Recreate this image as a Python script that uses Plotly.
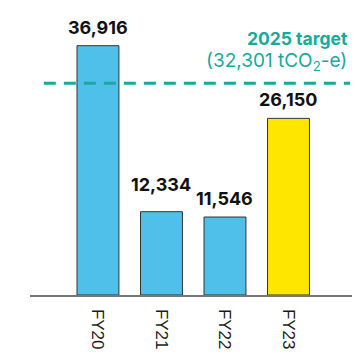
import plotly.graph_objects as go

categories = ["FY20", "FY21", "FY22", "FY23"]
emissions = [36916, 12334, 11546, 26150]
value_labels = ["36,916", "12,334", "11,546", "26,150"]
bar_colors = ["#4FC0EA", "#4FC0EA", "#4FC0EA", "#FFE600"]
target_value_text = "32,301"
target_line_level = 31350  # level of dashed line as drawn in picture

TEAL = "#17AA9B"

fig = go.Figure()
fig.add_trace(go.Bar(
    x=categories, y=emissions,
    marker=dict(color=bar_colors, line=dict(color="#333333", width=1)),
    width=0.66, hoverinfo="skip",
))

label_shift = [18, 27, 19, 19]
for cat, val, lab, sh in zip(categories, emissions, value_labels, label_shift):
    fig.add_annotation(x=cat, y=val, text="<b>" + lab + "</b>", showarrow=False,
                       yanchor="middle", yshift=sh,
                       font=dict(family="Inter", size=18, color="#111111"))

fig.add_shape(type="line", xref="paper", yref="y", x0=0.043, x1=0.994,
              y0=target_line_level, y1=target_line_level,
              line=dict(color=TEAL, width=3, dash="12px,8px"))

fig.add_annotation(xref="paper", yref="paper", x=0.994, y=1, yanchor="top", xanchor="right",
                   align="right", showarrow=False, yshift=-16,
                   text="<b><span style='font-size:17.5px'>2025 target</span></b><br>"
                        "<span style='font-size:19px'>(" + target_value_text + " tCO<sub>2</sub>-e)</span>",
                   font=dict(family="Inter", size=17, color=TEAL))

fig.update_layout(
    width=356, height=356,
    margin=dict(l=30, r=4, t=10, b=61),
    paper_bgcolor="white", plot_bgcolor="white",
    showlegend=False,
    xaxis=dict(range=[-1.07, 4.0], showline=True, linecolor="#777777", linewidth=1.5,
               ticks="", tickangle=90, showgrid=False, automargin=False,
               ticklabelstandoff=9,
               tickfont=dict(family="Liberation Sans", size=17, color="#1A1A1A")),
    yaxis=dict(range=[0, 42200], visible=False, showgrid=False, zeroline=False),
)

fig.write_html("out.html", config={"displayModeBar": False, "staticPlot": True},
               post_script="document.body.style.margin='0';document.body.style.overflow='hidden';")
